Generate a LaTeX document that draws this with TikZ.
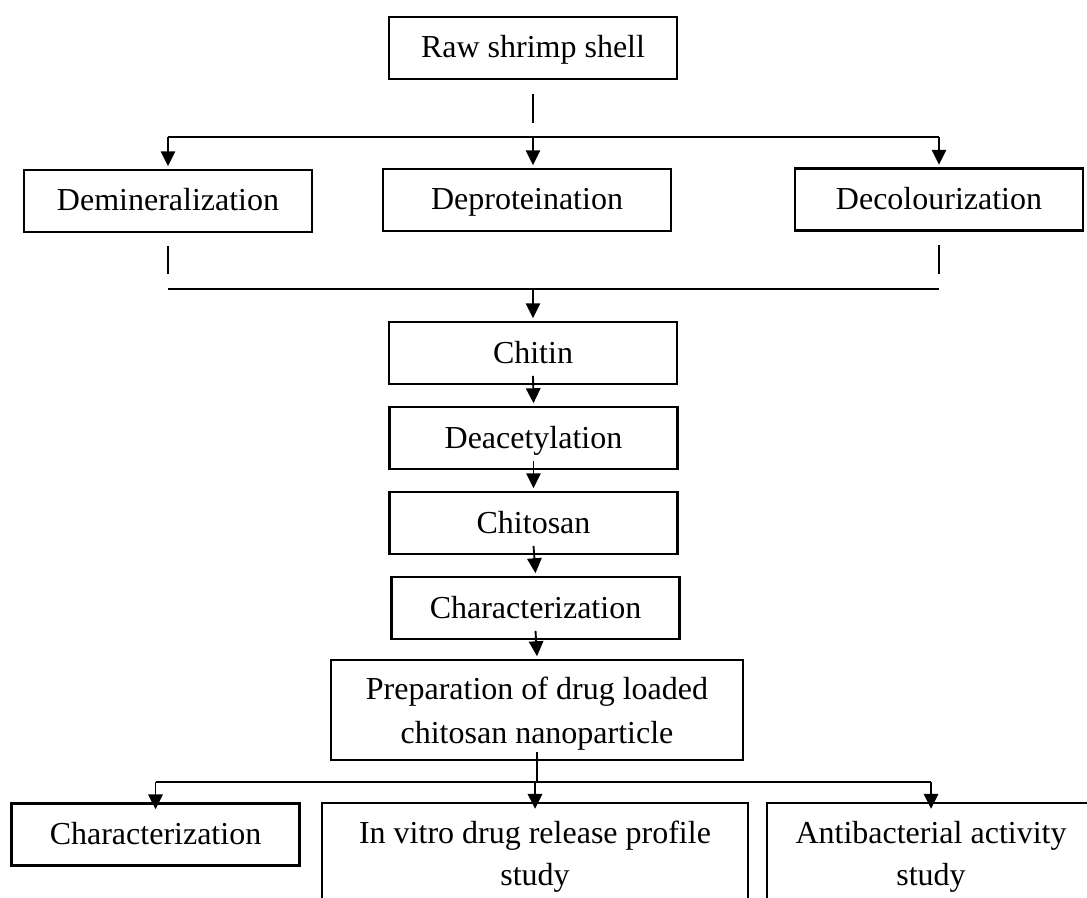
\documentclass[tikz,border=0pt]{standalone}
\usepackage{fontspec}
\setmainfont{Liberation Serif}
\usetikzlibrary{arrows.meta}
\tikzset{
  box/.style={draw, line width=0.85pt, minimum width=108pt, minimum height=23.25pt,
    align=center, inner sep=2pt, text height=10pt, text depth=2.5pt,
    font=\fontsize{12}{15}\selectfont},
  twoline/.style={box, text height=24.3pt, text depth=2.5pt,
    font=\fontsize{12}{15.6}\selectfont},
  link/.style={line width=0.7pt},
  bar/.style={line width=0.85pt},
}
\begin{document}
\begin{tikzpicture}[x=0.375pt, y=-0.375pt, >={Triangle[length=5.6pt,width=5.4pt]}]
  \clip (0,0) rectangle (1087,898);
  \node[box] (raw) at (533,48) {Raw shrimp shell};
  \node[box] (demin) at (168,201) {Demineralization};
  \node[box] (deprot) at (527,200) {Deproteination};
  \node[box] (decol) at (939,199.5) {Decolourization};
  \node[box] (chitin) at (533,353) {Chitin};
  \node[box] (deacet) at (533.5,438) {Deacetylation};
  \node[box] (chitosan) at (533.5,523) {Chitosan};
  \node[box] (charA) at (535.5,608) {Characterization};
  \node[twoline, minimum width=154.5pt, minimum height=37.5pt, text height=27.3pt,
    font=\fontsize{12}{16.3}\selectfont] (prep) at (537,710)
    {Preparation of drug loaded\\chitosan nanoparticle};
  \node[box] (charB) at (155.5,834.5) {Characterization};
  \node[twoline, minimum width=159.75pt, minimum height=39.75pt] (invitro) at (535,856)
    {In vitro drug release profile\\study};
  \node[twoline, minimum width=123pt, minimum height=39.75pt] (antibac) at (931,856)
    {Antibacterial activity\\study};

  % shell to the three treatments
  \coordinate (split) at (533,137);
  \draw[link] ([yshift=-5.25pt]raw.south) -- ([yshift=5.25pt]split);
  \draw[bar] (demin.north |- split) -- (decol.north |- split);
  \foreach \n in {demin,decol}
    \draw[link,->] (\n.north |- split) -- ([yshift=1pt]\n.north);
  \draw[link,->] (split) -- ([yshift=1pt]split |- deprot.north);

  % treatments to chitin
  \coordinate (merge) at (533,289);
  \foreach \n in {demin,decol}
    \draw[link] ([yshift=-5pt]\n.south) -- ([yshift=5.5pt]\n.south |- merge);
  \draw[bar] (demin.south |- merge) -- (decol.south |- merge);
  \draw[link,->] (merge) -- ([yshift=1pt]chitin.north);

  \foreach \a/\b in {chitin/deacet, deacet/chitosan, chitosan/charA, charA/prep}
    \draw[link,->] ([yshift=3.5pt]\a.south) -- ([yshift=1pt]\b.north);

  % nanoparticle to the three studies
  \coordinate (fork) at (537,782);
  \draw[link] ([yshift=3.5pt]prep.south) -- (fork);
  \draw[bar] (charB.north |- fork) -- (antibac.north |- fork);
  \foreach \n in {charB,invitro,antibac}
    \draw[link,->] (\n.north |- fork) -- ([yshift=-2.6pt]\n.north);
\end{tikzpicture}
\end{document}
